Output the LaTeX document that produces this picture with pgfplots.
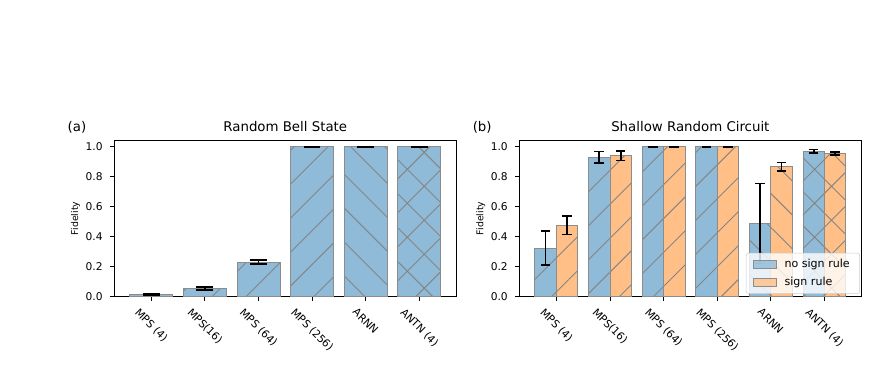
\documentclass[border=0pt]{standalone}
\usepackage{graphicx}
\usepackage{fontspec}
\setmainfont{DejaVu Sans}
\usepackage{pgfplots}
\pgfplotsset{compat=1.18}
\usepackage{pgfplotstable}
\usetikzlibrary{patterns.meta}

\definecolor{blueb}{HTML}{8FBBD9}
\definecolor{orangeb}{HTML}{FFBF86}
\definecolor{edgegray}{HTML}{8C8C8C}
\definecolor{hatchgray}{HTML}{858585}

\tikzset{
  hfwd/.style={postaction={pattern={Lines[angle=45,distance=18pt,line width=0.7pt]},pattern color=hatchgray}},
  hback/.style={postaction={pattern={Lines[angle=-45,distance=18pt,line width=0.7pt]},pattern color=hatchgray}},
  hcross/.style={postaction={pattern={Hatch[angle=45,distance=18pt,line width=0.7pt]},pattern color=hatchgray}},
}

% left panel: Random Bell State
\pgfplotstableread{
x y e
0 0.015 0.002
1 0.055 0.008
2 0.231 0.015
3 1.000 0.001
}\bellA
\pgfplotstableread{
x y e
4 1.000 0.001
}\bellB
\pgfplotstableread{
x y e
5 1.000 0.001
}\bellC

% right panel: Shallow Random Circuit, no sign rule (bars centred at category-0.2)
\pgfplotstableread{
x y e
-0.2 0.325 0.113
0.8 0.929 0.039
1.8 1.000 0.001
2.8 1.000 0.001
}\noA
\pgfplotstableread{
x y e
3.8 0.489 0.267
}\noB
\pgfplotstableread{
x y e
4.8 0.971 0.011
}\noC
% sign rule (bars centred at category+0.2)
\pgfplotstableread{
x y e
0.2 0.476 0.061
1.2 0.940 0.032
2.2 1.000 0.001
3.2 1.000 0.001
}\sgA
\pgfplotstableread{
x y e
4.2 0.867 0.029
}\sgB
\pgfplotstableread{
x y e
5.2 0.956 0.010
}\sgC

\pgfplotsset{
  panel/.style={
    scale only axis,
    width=256.5pt, height=117.5pt,
    anchor=south west,
    xmin=-0.69, xmax=5.69,
    ymin=0, ymax=1.045,
    axis line style={line width=0.75pt},
    tick pos=left,
    tick align=outside,
    major tick length=3pt,
    tick style={black, line width=0.6pt},
    xtick={0,1,2,3,4,5},
    xticklabels={\rotatebox{-45}{MPS (4)},\rotatebox{-45}{MPS(16)},\rotatebox{-45}{MPS (64)},\rotatebox{-45}{MPS (256)},\rotatebox{-45}{ARNN},\rotatebox{-45}{ANTN (4)}},
    xticklabel style={anchor=north, inner sep=0pt, yshift=-4.8pt, font=\fontsize{8}{9.6}\selectfont},
    ytick={0,0.2,0.4,0.6,0.8,1.0},
    yticklabel style={/pgf/number format/fixed, /pgf/number format/fixed zerofill, /pgf/number format/precision=1, /pgf/number format/assume math mode=true, font=\fontsize{8}{9.6}\selectfont, inner sep=0pt, xshift=-5.5pt},
    ylabel={Fidelity},
    ylabel style={at={(axis description cs:-0.113,0.5)}, anchor=center, font=\fontsize{7}{8}\selectfont},
    every axis title shift=0pt,
    title style={at={(axis description cs:0.5,1)}, anchor=base, yshift=6.4pt, font=\fontsize{10}{12}\selectfont},
    clip=false,
  },
  ebar/.style={error bars/.cd, y dir=both, y explicit,
    error bar style={line width=1.3pt, black},
    error mark options={rotate=90, mark size=#1, line width=1.3pt, black}},
}

\begin{document}
\begin{tikzpicture}
\path (0,0) rectangle (657.75pt,279.75pt);

\begin{axis}[panel, at={(85.7pt,57.2pt)}, title={Random Bell State}]
\addplot[ybar, bar width=0.8, bar shift=0, fill=blueb, draw=edgegray, line width=0.6pt, hfwd, ebar=6.3pt] table[x=x,y=y,y error=e] {\bellA};
\addplot[ybar, bar width=0.8, bar shift=0, fill=blueb, draw=edgegray, line width=0.6pt, hback, ebar=6.3pt] table[x=x,y=y,y error=e] {\bellB};
\addplot[ybar, bar width=0.8, bar shift=0, fill=blueb, draw=edgegray, line width=0.6pt, hcross, ebar=6.3pt] table[x=x,y=y,y error=e] {\bellC};
\node[anchor=base west, font=\fontsize{10}{12}\selectfont, inner sep=0pt] at (axis description cs:-0.137,1.054) {(a)};
\end{axis}

\begin{axis}[panel, at={(389.5pt,57.2pt)}, title={Shallow Random Circuit},
  legend style={at={(axis description cs:0.996,0.018)}, anchor=south east,
    draw=black!20, fill=white, fill opacity=0.8, text opacity=1, rounded corners=2pt,
    font=\fontsize{8.3}{10}\selectfont, row sep=1.8pt, inner xsep=5.5pt, inner ysep=2.5pt},
  legend cell align=left,
  legend image code/.code={\draw[#1, sharp corners, line width=0.6pt] (0pt,-3pt) rectangle (17pt,3pt); \path[draw=none, fill=none, pattern=none] (17pt,0pt) -- (21pt,0pt);},
]
\addlegendimage{fill=blueb, draw=edgegray}
\addlegendentry{no sign rule}
\addlegendimage{fill=orangeb, draw=edgegray}
\addlegendentry{sign rule}
\addplot[forget plot, ybar, bar width=0.4, bar shift=0, fill=blueb, draw=edgegray, line width=0.6pt, hfwd, ebar=3.6pt] table[x=x,y=y,y error=e] {\noA};
\addplot[forget plot, ybar, bar width=0.4, bar shift=0, fill=blueb, draw=edgegray, line width=0.6pt, hback, ebar=3.6pt] table[x=x,y=y,y error=e] {\noB};
\addplot[forget plot, ybar, bar width=0.4, bar shift=0, fill=blueb, draw=edgegray, line width=0.6pt, hcross, ebar=3.6pt] table[x=x,y=y,y error=e] {\noC};
\addplot[forget plot, ybar, bar width=0.4, bar shift=0, fill=orangeb, draw=edgegray, line width=0.6pt, hfwd, ebar=3.6pt] table[x=x,y=y,y error=e] {\sgA};
\addplot[forget plot, ybar, bar width=0.4, bar shift=0, fill=orangeb, draw=edgegray, line width=0.6pt, hback, ebar=3.6pt] table[x=x,y=y,y error=e] {\sgB};
\addplot[forget plot, ybar, bar width=0.4, bar shift=0, fill=orangeb, draw=edgegray, line width=0.6pt, hcross, ebar=3.6pt] table[x=x,y=y,y error=e] {\sgC};
\node[anchor=base west, font=\fontsize{10}{12}\selectfont, inner sep=0pt] at (axis description cs:-0.137,1.054) {(b)};
\end{axis}
\end{tikzpicture}
\end{document}
